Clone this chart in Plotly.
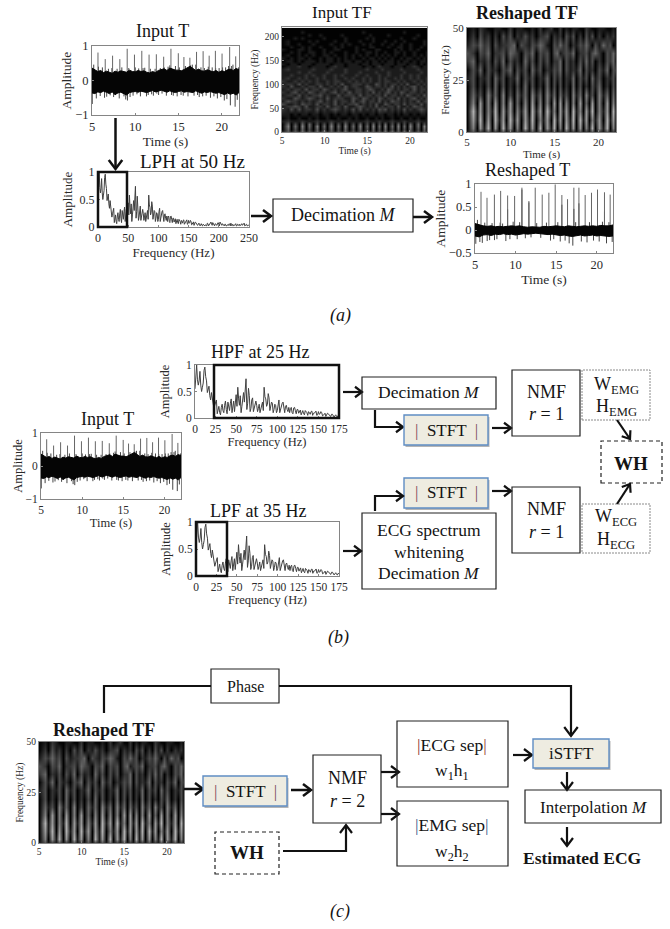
import plotly.graph_objects as go

W, H = 670, 929
SERIF = "Liberation Serif"
INK = "#141414"

# ---------- data ----------
beat_t = [5.69, 6.53, 7.38, 8.22, 9.07, 9.91, 10.76, 11.6, 12.44, 13.29, 14.13,
          14.98, 15.63, 16.32, 17.09, 17.85, 18.55, 19.27, 20.04, 20.92, 21.62]
beat_amp = [0.81, 0.62, 0.72, 0.62, 0.92, 0.75, 0.86, 0.75, 0.76, 0.69, 0.92,
            0.79, 0.68, 0.66, 0.83, 0.85, 0.72, 0.86, 0.78, 0.97, 0.70]

core_t = [5.0, 5.33, 5.67, 6.0, 6.33, 6.67, 7.0, 7.33, 7.67, 8.0, 8.33, 8.67, 9.0,
          9.33, 9.67, 10.0, 10.33, 10.67, 11.0, 11.33, 11.67, 12.0, 12.33, 12.67,
          13.0, 13.33, 13.67, 14.0, 14.33, 14.67, 15.0, 15.33, 15.67, 16.0, 16.33,
          16.67, 17.0, 17.33, 17.67, 18.0, 18.33, 18.67, 19.0, 19.33, 19.67, 20.0,
          20.33, 20.67, 21.0, 21.33, 21.67, 22.0]
core_top = [0.36, 0.30, 0.26, 0.29, 0.23, 0.27, 0.24, 0.21, 0.27, 0.24, 0.28, 0.25,
            0.24, 0.30, 0.26, 0.25, 0.29, 0.26, 0.28, 0.24, 0.22, 0.26, 0.23, 0.29,
            0.31, 0.34, 0.29, 0.36, 0.33, 0.30, 0.30, 0.28, 0.32, 0.36, 0.41, 0.35,
            0.29, 0.33, 0.28, 0.27, 0.31, 0.28, 0.25, 0.29, 0.24, 0.28, 0.26, 0.31,
            0.33, 0.29, 0.35, 0.31]
core_bot = [-0.36, -0.38, -0.33, -0.35, -0.31, -0.34, -0.38, -0.33, -0.41, -0.36,
            -0.34, -0.38, -0.42, -0.35, -0.33, -0.32, -0.34, -0.31, -0.33, -0.35,
            -0.32, -0.29, -0.33, -0.31, -0.28, -0.32, -0.34, -0.30, -0.33, -0.35,
            -0.32, -0.30, -0.34, -0.32, -0.33, -0.35, -0.30, -0.34, -0.37, -0.33,
            -0.35, -0.32, -0.34, -0.37, -0.35, -0.38, -0.41, -0.36, -0.40, -0.37,
            -0.42, -0.35]
fringe_t = [5.03, 5.2, 5.5, 5.75, 5.95, 6.2, 6.45, 6.7, 6.9, 7.1, 7.3, 7.5, 7.7, 7.9, 8.15,
            8.45, 8.7, 8.9, 9.1, 9.25, 9.4, 9.75, 10.0, 10.2, 10.4, 10.6, 10.9, 11.1, 11.3,
            11.5, 11.75, 11.9, 12.1, 12.3, 12.5, 12.7, 12.9, 13.1, 13.35, 13.6, 13.8, 14.0,
            14.2, 14.4, 14.65, 14.85, 15.1, 15.3, 15.55, 15.8, 16.1, 16.4, 16.6, 16.8, 17.0,
            17.2, 17.4, 17.6, 17.8, 18.0, 18.2, 18.45, 18.7, 18.9, 19.1, 19.3, 19.5, 19.7,
            19.9, 20.1, 20.3, 20.45, 20.6, 20.8, 21.0, 21.15, 21.3, 21.55, 21.8, 21.95]
fringe_val = [-0.68, 0.46, -0.52, 0.40, -0.45, 0.38, -0.50, -0.47, 0.34, -0.43, 0.36, -0.48,
              -0.42, 0.34, -0.52, 0.38, -0.46, -0.55, -0.58, 0.36, -0.48, -0.44, 0.38, -0.40,
              0.35, -0.46, 0.36, 0.37, -0.46, -0.42, 0.34, -0.40, -0.44, 0.34, -0.38, -0.42,
              0.36, -0.38, 0.38, -0.44, 0.40, 0.44, -0.42, -0.44, 0.42, -0.46, 0.38, -0.42,
              -0.44, 0.42, -0.46, 0.44, 0.46, -0.44, 0.46, -0.42, -0.48, 0.38, -0.46, 0.36,
              -0.44, 0.40, -0.50, 0.38, -0.46, 0.36, -0.52, 0.36, -0.48, 0.38, -0.58, 0.38,
              -0.54, 0.42, -0.72, 0.42, 0.46, -0.76, -0.56, 0.38]

reshaped_t = [5.74, 6.48, 7.39, 8.16, 9.02, 9.88, 10.78, 11.64, 12.42, 13.28, 14.1,
              14.88, 15.7, 16.4, 17.18, 17.8, 18.57, 19.35, 20.09, 20.95, 21.65]
reshaped_amp = [0.83, 0.70, 0.77, 0.85, 0.75, 0.74, 0.92, 0.63, 0.92, 0.77, 0.81, 0.99,
                0.76, 0.67, 0.92, 0.92, 0.76, 0.81, 0.88, 0.82, 0.77]
reshaped_core_t = [5.0, 5.5, 6.0, 6.5, 7.0, 7.5, 8.0, 8.5, 9.0, 9.5, 10.0, 10.5, 11.0,
                   11.5, 12.0, 12.5, 13.0, 13.5, 14.0, 14.5, 15.0, 15.5, 16.0, 16.5,
                   17.0, 17.5, 18.0, 18.5, 19.0, 19.5, 20.0, 20.5, 21.0, 21.5, 22.0]
reshaped_top = [0.14, 0.11, 0.09, 0.08, 0.09, 0.07, 0.08, 0.07, 0.08, 0.09, 0.08, 0.09,
                0.07, 0.06, 0.07, 0.07, 0.06, 0.08, 0.07, 0.08, 0.09, 0.08, 0.07, 0.09,
                0.08, 0.07, 0.08, 0.09, 0.08, 0.09, 0.08, 0.10, 0.09, 0.09, 0.11]
reshaped_bot = [-0.13, -0.15, -0.11, -0.10, -0.12, -0.09, -0.10, -0.08, -0.10, -0.09,
                -0.11, -0.09, -0.08, -0.09, -0.08, -0.07, -0.08, -0.09, -0.10, -0.09,
                -0.11, -0.12, -0.11, -0.13, -0.14, -0.12, -0.11, -0.13, -0.12, -0.11,
                -0.13, -0.12, -0.13, -0.14, -0.13]
reshaped_fringe_t = [5.1, 5.3, 5.6, 5.9, 6.2, 6.5, 6.8, 7.1, 7.4, 7.7, 8.1, 8.4, 8.8, 9.02, 9.3,
                     9.7, 10.2, 10.5, 10.78, 11.2, 11.64, 11.9, 12.6, 13.1, 13.8, 14.3, 14.7,
                     15.2, 15.5, 15.7, 16.1, 16.6, 17.05, 17.18, 17.4, 17.8, 18.1, 18.8, 19.1,
                     19.6, 20.09, 20.3, 20.7, 20.95, 21.2, 21.5, 21.9]
reshaped_fringe_val = [-0.30, 0.22, -0.26, -0.28, 0.16, -0.24, -0.22, 0.15, -0.22, -0.20, 0.16,
                       0.14, -0.24, 0.45, -0.20, 0.18, -0.20, 0.17, 0.88, -0.18, 0.60, -0.16,
                       0.15, -0.17, 0.16, -0.23, -0.20, 0.17, -0.25, 0.55, -0.23, -0.29, -0.34,
                       0.46, 0.17, 0.58, -0.25, -0.27, 0.17, -0.23, 0.45, -0.25, 0.18, 0.40,
                       -0.29, 0.17, -0.26]

even_hz = [0, 2, 4, 6, 8, 10, 12, 14, 16, 18, 20, 22, 24, 26, 28, 30, 32, 34, 36, 38,
           40, 42, 44, 46, 48, 50, 52, 54, 56, 58, 60, 62, 64, 66, 68, 70, 72, 74,
           76, 78, 80, 82, 84, 86, 88, 90, 92, 94, 96, 98, 100, 102, 104, 106, 108,
           110, 112, 114, 116, 118, 120, 122, 124, 126, 128, 130, 132, 134, 136,
           138, 140, 142, 144, 146, 148, 150, 152, 154, 156, 158, 160, 162, 164,
           166, 168, 170, 172, 174, 176, 178, 180, 182, 184, 186, 188, 190, 192,
           194, 196, 198, 200, 202, 204, 206, 208, 210, 212, 214, 216, 218, 220,
           222, 224, 226, 228, 230, 232, 234, 236, 238, 240, 242, 244, 246, 248, 250]
even_amp = [0.55, 1.0, 0.62, 0.88, 0.50, 0.66, 0.96, 0.70, 0.55, 0.42, 0.48, 0.30,
            0.24, 0.34, 0.14, 0.10, 0.20, 0.14, 0.24, 0.16, 0.30, 0.14, 0.36, 0.22,
            0.12, 0.44, 0.58, 0.24, 0.10, 0.40, 0.30, 0.74, 0.28, 0.42, 0.18, 0.38,
            0.20, 0.32, 0.12, 0.26, 0.16, 0.30, 0.58, 0.36, 0.26, 0.38, 0.20, 0.28,
            0.16, 0.24, 0.14, 0.34, 0.18, 0.28, 0.12, 0.22, 0.16, 0.20, 0.18, 0.10,
            0.19, 0.14, 0.16, 0.09, 0.15, 0.12, 0.08, 0.14, 0.10, 0.12, 0.07, 0.13,
            0.09, 0.11, 0.05, 0.12, 0.08, 0.10, 0.05, 0.09, 0.06, 0.08, 0.04, 0.07,
            0.05, 0.04, 0.03, 0.05, 0.03, 0.04, 0.02, 0.06, 0.04, 0.09, 0.05, 0.08,
            0.04, 0.06, 0.03, 0.07, 0.05, 0.09, 0.04, 0.06, 0.03, 0.05, 0.02, 0.04,
            0.03, 0.05, 0.07, 0.02, 0.04, 0.03, 0.06, 0.02, 0.04, 0.05, 0.03, 0.06,
            0.04, 0.07, 0.03, 0.05, 0.02, 0.04]
odd_amp = [0.80, 0.72, 0.70, 0.62, 0.58, 0.90, 0.78, 0.48, 0.60, 0.34, 0.36, 0.18, 0.30, 0.08,
           0.22, 0.06, 0.26, 0.10, 0.32, 0.08, 0.18, 0.28, 0.10, 0.32, 0.30, 0.22, 0.36, 0.42,
           0.22, 0.48, 0.52, 0.16, 0.56, 0.12, 0.34, 0.12, 0.28, 0.24, 0.18, 0.10, 0.22, 0.14,
           0.40, 0.22, 0.46, 0.14, 0.30, 0.10, 0.26, 0.10, 0.28, 0.10, 0.22, 0.30, 0.10, 0.24,
           0.12, 0.10, 0.20, 0.08, 0.20, 0.08, 0.16, 0.12, 0.06, 0.14, 0.06, 0.12, 0.05, 0.10,
           0.12, 0.05, 0.09, 0.13, 0.06, 0.07, 0.12, 0.04, 0.08, 0.03, 0.09, 0.05, 0.03, 0.07,
           0.02, 0.06, 0.02, 0.04, 0.02, 0.03, 0.07, 0.02, 0.05, 0.09, 0.03, 0.06, 0.02, 0.05,
           0.03, 0.08, 0.02, 0.07, 0.03, 0.04, 0.02, 0.05, 0.02, 0.04, 0.06, 0.02, 0.03, 0.05,
           0.02, 0.04, 0.02, 0.05, 0.03, 0.02, 0.06, 0.03, 0.05, 0.02, 0.04, 0.02, 0.03]

gap_t = [5.0, 6.11, 6.95, 7.8, 8.64, 9.49, 10.33, 11.18, 12.02, 12.86, 13.71, 14.55,
         15.3, 15.97, 16.7, 17.47, 18.2, 18.91, 19.65, 20.48, 21.27, 22.0]
tf_hz = [0, 6, 12, 18, 24, 30, 38, 48, 54, 60, 66, 72, 78, 84, 90, 96, 102, 108, 114, 120,
         126, 132, 138, 144, 150, 156, 162, 168, 174, 180, 186, 192, 198, 204, 210, 216]
tf_rows = [
    "1313141314 1413131413 1314131314 1413141313 131",
    "0403040304 0304030403 0403040304 0304030403 040",
    "0504050405 0405040504 0504050405 0405040504 050",
    "0403040403 0304030403 0403040304 0304030404 030",
    "1211121112 1112111211 1112111211 1211121112 111",
    "0100100101 0010010010 1001001010 0100100101 001",
    "1101011011 0110101101 1010110110 1101011010 110",
    "2131312213 1212321213 1312121323 1212131212 321",
    "1223213112 2131221311 2321213121 2213112132 212",
    "3112132213 1221312122 3121213113 2122131221 312",
    "1322121212 3121312213 1231221312 1322121213 123",
    "2113212321 2131222113 2132121321 2213121231 213",
    "1221312122 3121131222 1312212213 1221213212 131",
    "2123121321 2212312131 2212131212 3121321221 212",
    "1212213122 1321212311 2212321121 3212122131 221",
    "2131121221 3112121312 2113212212 1312121231 212",
    "1221312112 2121213112 2212113212 1221213112 121",
    "2112121212 1121221121 2121211212 2112121121 212",
    "1211212112 1211211212 1121211212 1121211212 112",
    "1121112121 1211212111 2112111211 2111211212 111",
    "1111211211 1121111211 1211112111 2111121111 211",
    "1211111121 1112111211 1112111121 1111211112 111",
    "0111211011 1101211011 1101101211 1011101121 011",
    "1011011101 1110111011 1011011101 1101110110 101",
    "0110101110 1011010110 1101011010 1101011010 110",
    "1010110100 1011010101 0010110101 0100101101 010",
    "0100101010 0110100101 0101001010 1010010010 101",
    "0010100110 0101000100 1001101001 0011010010 001",
    "1000110100 0100110000 1010001100 0010100101 000",
    "0010010100 1000101000 1000110000 1001100100 100",
    "0100100010 0001001010 0010100010 0100100100 010",
    "0100000101 0000100100 0100010001 0010010000 010",
    "0001010000 0100000100 0001010000 0000100010 000",
    "0000000100 1000001000 0000100000 1000000001 000",
    "0000010000 0000000000 0010000000 0000010000 000",
    "0000000000 0000000000 0000000000 0000000000 000",
]
reshaped_hz = [0, 2, 6, 10, 14, 18, 22, 26, 30, 34, 38, 42, 46, 50]
reshaped_rows = [
    "1312131213 1213121314 1213121312 1312131213 121",
    "0506170607 1605071607 0617050716 0605170617 050",
    "0617060716 0716061705 1607160617 0716051607 160",
    "0716051706 1605160716 0715061607 1506170516 070",
    "0506050605 0604050605 0506060505 0604060506 050",
    "0413051405 0304140514 0514041305 1405130514 040",
    "0302030403 0203040302 0403030204 0302031402 030",
    "1302130413 0214031302 1403130214 0313041302 130",
    "0314031203 2403130413 0213240312 1403120314 032",
    "2402130314 0312041303 1302240312 0314130203 240",
    "3203240223 1432032403 2303412324 0223134203 241",
    "1324230312 2340321324 3103242302 1324203142 301",
    "0203120203 1302131202 2302120313 0203130202 120",
    "0102100110 0201100102 0120020101 1002100110 010",
]

time_ticks = [5, 10, 15, 20]
spec_ticks_250 = [0, 50, 100, 150, 200, 250]
spec_ticks_175 = [0, 25, 50, 75, 100, 125, 150, 175]


def parse(rows):
    return [[int(c) for c in r.replace(" ", "")] for r in rows]


def stems(ts, vals):
    xs, ys = [], []
    for t, v in zip(ts, vals):
        xs += [t, t, None]
        ys += [0, v, None]
    return xs, ys


# ---------- figure helpers ----------
fig = go.Figure()
shapes, notes = [], []
GRAY_SCALE = [[0, "rgb(2,2,2)"], [1, "rgb(225,225,225)"]]
axis_n = 0


def px(x):
    return x / W


def py(y):
    return 1 - y / H


def panel(box, xr, yr, xt, yt, xtitle, ytitle, tick=12, ttl=13, sx=0, sy=0):
    global axis_n
    axis_n += 1
    s = "" if axis_n == 1 else str(axis_n)
    x0, y0, x1, y1 = box
    base = dict(showgrid=False, zeroline=False, showline=True, mirror=True,
                linecolor="#858585", linewidth=1, ticks="inside", ticklen=2,
                tickcolor="#858585", tickfont=dict(family=SERIF, size=tick, color="#2a2a2a"),
                automargin=False, tickangle=0)
    fig.layout["xaxis" + s] = dict(base, domain=[px(x0), px(x1)], range=xr, tickvals=xt,
                                   anchor="y" + s,
                                   title=dict(text=xtitle, standoff=sx,
                                              font=dict(family=SERIF, size=ttl, color="#2a2a2a")))
    fig.layout["yaxis" + s] = dict(base, domain=[py(y1), py(y0)], range=yr, tickvals=yt,
                                   anchor="x" + s,
                                   title=dict(text=ytitle, standoff=sy,
                                              font=dict(family=SERIF, size=ttl, color="#2a2a2a")))
    return "x" + s, "y" + s


def signal_traces(ax, ay, core_x, top, bot, fr_t, fr_v, sp_t, sp_v):
    fx, fy = stems(fr_t, fr_v)
    fig.add_trace(go.Scatter(x=fx, y=fy, xaxis=ax, yaxis=ay, mode="lines", showlegend=False,
                             line=dict(color="#444", width=1), hoverinfo="skip"))
    sx, sy = stems(sp_t, sp_v)
    fig.add_trace(go.Scatter(x=sx, y=sy, xaxis=ax, yaxis=ay, mode="lines", showlegend=False,
                             line=dict(color="#666", width=1), hoverinfo="skip"))
    fig.add_trace(go.Scatter(x=core_x + core_x[::-1], y=top + bot[::-1], xaxis=ax, yaxis=ay,
                             mode="lines", fill="toself", fillcolor="#050505", showlegend=False,
                             line=dict(color="#050505", width=1), hoverinfo="skip"))


def spectrum_trace(ax, ay):
    pairs = sorted(list(zip(even_hz, even_amp)) +
                   [(h, a) for h, a in zip(range(1, 250, 2), odd_amp)])
    fig.add_trace(go.Scatter(x=[p[0] for p in pairs], y=[p[1] for p in pairs], xaxis=ax, yaxis=ay,
                             mode="lines", showlegend=False, hoverinfo="skip",
                             line=dict(color="#404040", width=1)))


def heat(ax, ay, hz, rows):
    xs = sorted(gap_t + beat_t)
    fig.add_trace(go.Heatmap(x=xs, y=hz, z=parse(rows), xaxis=ax, yaxis=ay, zmin=0, zmax=9,
                             colorscale=GRAY_SCALE, showscale=False, zsmooth="best",
                             hoverinfo="skip"))


def rect(x0, y0, x1, y1, color="#222", width=1.2, dash="solid", fill="rgba(0,0,0,0)"):
    shapes.append(dict(type="rect", xref="paper", yref="paper", x0=px(x0), x1=px(x1),
                       y0=py(y1), y1=py(y0), fillcolor=fill,
                       line=dict(color=color, width=width, dash=dash)))


def stft_box(x0, y0, x1, y1):
    rect(x0 + 1.5, y0 + 2, x1 + 1.5, y1 + 2, color="rgba(0,0,0,0)", width=0, fill="#b5b5b5")
    rect(x0, y0, x1, y1, color="#5f8dc4", width=1.4, fill="#EEECE1")


def path(points, color="#111", width=2):
    d = "M " + " L ".join(f"{px(a):.5f},{py(b):.5f}" for a, b in points)
    shapes.append(dict(type="path", xref="paper", yref="paper", path=d,
                       line=dict(color=color, width=width)))


def arrow(points, width=2.2, head=7):
    path(points, width=width)
    (a0, b0), (a1, b1) = points[-2], points[-1]
    dx, dy = a1 - a0, b1 - b0
    n = (dx * dx + dy * dy) ** 0.5
    dx, dy = dx / n, dy / n
    left = (a1 - head * dx - 0.75 * head * dy, b1 - head * dy + 0.75 * head * dx)
    right = (a1 - head * dx + 0.75 * head * dy, b1 - head * dy - 0.75 * head * dx)
    path([left, (a1, b1), right], width=width)


def text(x, y, s, size=17, color=INK):
    notes.append(dict(xref="paper", yref="paper", x=px(x), y=py(y), text=s, showarrow=False,
                      xanchor="center", yanchor="middle",
                      font=dict(family=SERIF, size=size, color=color)))


STFT = '<span style="color:#7b4a5a">|</span>  STFT  <span style="color:#7b4a5a">|</span>'

# ---------- panels ----------
ax, ay = panel((92, 46, 239, 115), [5, 22], [-1, 1], time_ticks, [-1, 0, 1], "Time (s)", "Amplitude",
               tick=12.5, ttl=13.5, sy=0)
signal_traces(ax, ay, core_t, core_top, core_bot, fringe_t, fringe_val, beat_t, beat_amp)

ax, ay = panel((282, 27, 427, 132), [5, 22], [0, 221], time_ticks, [0, 50, 100, 150, 200],
               "Time (s)", "Frequency (Hz)", tick=9.5, ttl=9.5, sy=4)
heat(ax, ay, tf_hz, tf_rows)

ax, ay = panel((467, 28, 616, 132), [5, 22], [0, 50], time_ticks, [0, 25, 50], "Time (s)",
               "Frequency (Hz)", tick=11, ttl=11)
heat(ax, ay, reshaped_hz, reshaped_rows)

ax, ay = panel((98, 172, 249, 227), [0, 250], [0, 1], spec_ticks_250, [0, 0.5, 1],
               "Frequency (Hz)", "Amplitude", tick=12, ttl=13, sy=4)
spectrum_trace(ax, ay)

ax, ay = panel((475, 184, 613, 253), [5, 22], [-0.5, 1], time_ticks, [-0.5, 0, 0.5, 1], "Time (s)",
               "Amplitude", tick=12.5, ttl=13.5)
signal_traces(ax, ay, reshaped_core_t, reshaped_top, reshaped_bot, reshaped_fringe_t,
              reshaped_fringe_val, reshaped_t, reshaped_amp)

ax, ay = panel((195, 365, 339, 418), [0, 175], [0, 1], spec_ticks_175, [0, 0.5, 1],
               "Frequency (Hz)", "Amplitude", tick=11.5, ttl=12.5, sy=4)
spectrum_trace(ax, ay)

ax, ay = panel((41, 433, 181, 499), [5, 22], [-1, 1], time_ticks, [-1, 0, 1], "Time (s)", "Amplitude",
               tick=11.5, ttl=12.5)
signal_traces(ax, ay, core_t, core_top, core_bot, fringe_t, fringe_val, beat_t, beat_amp)

ax, ay = panel((196, 522, 339, 576), [0, 175], [0, 1], spec_ticks_175, [0, 0.5, 1],
               "Frequency (Hz)", "Amplitude", tick=11.5, ttl=12.5, sy=4)
spectrum_trace(ax, ay)

ax, ay = panel((39, 742, 184, 843), [5, 22], [0, 50], time_ticks, [0, 25, 50], "Time (s)",
               "Frequency (Hz)", tick=9.5, ttl=9.5, sy=1)
heat(ax, ay, reshaped_hz, reshaped_rows)

# ---------- titles ----------
text(162, 31, "Input T", 18)
text(342, 13, "Input TF", 17)
text(527, 13, "<b>Reshaped TF</b>", 18)
text(193, 162, "LPH at 50 Hz", 19)
text(527, 170, "Reshaped T", 18)
text(107, 419, "Input T", 18)
text(260, 352, "HPF at 25 Hz", 18)
text(258, 511, "LPF at 35 Hz", 18)
text(104, 730, "<b>Reshaped TF</b>", 18)
text(340, 315, "<i>(a)</i>", 18)
text(338, 637, "<i>(b)</i>", 18)
text(340, 911, "<i>(c)</i>", 18)

# ---------- part (a) diagram ----------
rect(98, 172, 127, 227, width=2.5, color="#111")
arrow([(115.5, 118), (115.5, 169)], width=2.5, head=9)
rect(273, 199, 413, 232)
text(343, 215, "Decimation <i>M</i>", 18)
arrow([(251, 216), (271, 216)], width=2.5, head=8)
arrow([(413, 217), (432, 217)], width=2.5, head=8)

# ---------- part (b) diagram ----------
rect(214, 365, 339, 418, width=2.5, color="#111")
rect(196, 522, 227, 576, width=2.5, color="#111")
arrow([(343, 392), (362, 392)], head=7)
rect(362, 377, 496, 409)
text(429, 392, "Decimation <i>M</i>", 17.5)
arrow([(375, 410), (375, 427), (403, 427)], head=7)
stft_box(404, 415, 488, 445)
text(446, 430, STFT, 17)
arrow([(492, 428), (511, 428)], head=7)
rect(512, 370, 580, 436)
text(546, 392, "NMF", 18)
text(546, 414, "<i>r</i> = 1", 18)
rect(582, 370, 650, 420, color="#8a8a8a", width=1, dash="2px,1px")
text(616, 385, "W<sub>EMG</sub>", 18)
text(616, 407, "H<sub>EMG</sub>", 18)
arrow([(617, 420), (630, 439)], head=7)
rect(601, 441, 662, 483, dash="4px,3px", color="#222")
text(631, 463, "<b>WH</b>", 19)
stft_box(404, 478, 488, 508)
text(446, 493, STFT, 17)
arrow([(375, 511), (375, 496), (403, 496)], head=7)
arrow([(492, 491), (511, 491)], head=7)
rect(362, 513, 496, 589)
text(429, 530, "ECG spectrum", 17.5)
text(429, 552, "whitening", 17.5)
text(429, 573, "Decimation <i>M</i>", 17.5)
arrow([(343, 551), (361, 551)], head=7)
rect(512, 487, 580, 553)
text(546, 509, "NMF", 18)
text(546, 532, "<i>r</i> = 1", 18)
rect(582, 504, 650, 553, color="#8a8a8a", width=1, dash="2px,1px")
text(616, 517, "W<sub>ECG</sub>", 18)
text(616, 540, "H<sub>ECG</sub>", 18)
arrow([(617, 504), (630, 484)], head=7)

# ---------- part (c) diagram ----------
rect(211, 669, 279, 703)
text(245, 686, "Phase", 16)
path([(104, 713), (104, 686), (211, 686)], width=2.2)
arrow([(279, 686), (571, 686), (571, 736)], width=2.2, head=9)
arrow([(184, 789), (203, 789)], width=2.5, head=8)
stft_box(203, 776, 287, 806)
text(245, 791, STFT, 17)
arrow([(291, 790), (311, 790)], width=2.5, head=8)
rect(313, 755, 381, 823)
text(347, 778, "NMF", 18)
text(347, 801, "<i>r</i> = 2", 18)
rect(215, 832, 279, 874, dash="4px,3px")
text(247, 852, "<b>WH</b>", 19)
arrow([(283, 851), (346, 851), (346, 825)], head=8)
arrow([(381, 772), (399, 772)], head=8)
arrow([(381, 814), (399, 814)], head=8)
rect(397, 721, 508, 787)
text(452, 745, '<span style="color:#943634">|</span>ECG sep<span style="color:#943634">|</span>', 17.5)
text(452, 771, "w<sub>1</sub>h<sub>1</sub>", 17.5)
rect(397, 801, 508, 866)
text(452, 825, '<span style="color:#3d5f8a">|</span>EMG sep<span style="color:#3d5f8a">|</span>', 17.5)
text(452, 852, "w<sub>2</sub>h<sub>2</sub>", 17.5)
arrow([(513, 755), (532, 755)], head=8)
stft_box(533, 739, 609, 768)
text(571, 753, "iSTFT", 17)
arrow([(567, 772), (567, 790)], head=8)
rect(525, 790, 661, 823)
text(593, 807, "Interpolation <i>M</i>", 17)
arrow([(567, 827), (567, 846)], head=8)
text(582, 858, "<b>Estimated ECG</b>", 17.5)

fig.update_layout(width=W, height=H, autosize=False, margin=dict(l=0, r=0, t=0, b=0),
                  paper_bgcolor="white", plot_bgcolor="white", shapes=shapes, annotations=notes,
                  showlegend=False)
fig.write_html("out.html", config={"displayModeBar": False},
               post_script="document.body.style.margin='0';document.body.style.overflow='hidden';")
